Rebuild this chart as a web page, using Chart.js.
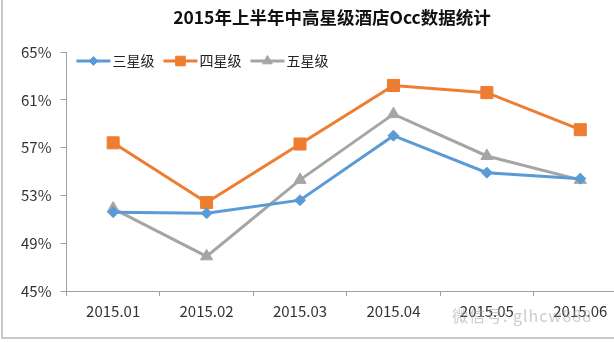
<!DOCTYPE html>
<html>
<head>
<meta charset="utf-8">
<script src="https://cdn.jsdelivr.net/npm/chart.js@4"></script>
<style>
  body { margin: 0; overflow: hidden; background: #fff; }
  .wrap { position: relative; width: 660px; height: 342px; }
  .title { position: absolute; left: 0; top: 5px; width: 664px; text-align: center;
           font: bold 17.5px "Noto Sans CJK SC", sans-serif; color: #111; line-height: 24px; }
  .frame { position: absolute; left: 1px; top: 0; width: 700px; height: 337px;
           border-left: 2px solid #c8c8c8; border-bottom: 2px solid #c8c8c8; pointer-events: none; }
  .mark { position: absolute; left: 452px; top: 303px; font: 16px "Noto Sans CJK SC", sans-serif;
          color: rgba(160,160,160,0.55); letter-spacing: 1px; }
</style>
</head>
<body>
<div class="wrap">
  <canvas id="occ"></canvas>
  <div class="title">2015年上半年中高星级酒店Occ数据统计</div>
  <div class="frame"></div>
  <div class="mark">微信号: glhcw888</div>
</div>
<script>
const months = ['2015.01', '2015.02', '2015.03', '2015.04', '2015.05', '2015.06'];
const seriesNames = ['三星级', '四星级', '五星级'];
const threeStar = [51.6, 51.5, 52.6, 58.0, 54.9, 54.4];
const fourStar = [57.4, 52.4, 57.3, 62.2, 61.6, 58.5];
const fiveStar = [51.9, 47.9, 54.3, 59.8, 56.3, 54.3];
const yMin = 45, yMax = 65, yStep = 4;

const colors = ['#5b9bd5', '#ed7d31', '#a5a5a5'];
const markers = [
  { style: 'rectRot', radius: 5.5 },
  { style: 'rect', radius: 8.5 },
  { style: 'triangle', radius: 7 }
];

const seriesData = [threeStar, fourStar, fiveStar];
const datasets = seriesData.map((vals, i) => ({
  label: seriesNames[i],
  data: vals,
  borderColor: colors[i],
  backgroundColor: colors[i],
  borderWidth: 3,
  pointStyle: markers[i].style,
  pointRadius: markers[i].radius,
  pointBorderWidth: 1,
  tension: 0
}));

// legend drawn inside the plot area, one row, line + marker then name
const insideLegend = {
  id: 'insideLegend',
  afterDraw(chart) {
    const ctx = chart.ctx;
    const area = chart.chartArea;
    let x = area.left + 10;
    const y = area.top + 9;
    ctx.save();
    ctx.font = '14px "Noto Sans CJK SC", sans-serif';
    ctx.textBaseline = 'middle';
    chart.data.datasets.forEach((ds, i) => {
      ctx.strokeStyle = colors[i];
      ctx.lineWidth = 3;
      ctx.beginPath();
      ctx.moveTo(x, y);
      ctx.lineTo(x + 34, y);
      ctx.stroke();
      ctx.fillStyle = colors[i];
      ctx.lineWidth = 1;
      Chart.helpers.drawPoint(ctx, { pointStyle: markers[i].style, radius: markers[i].radius * 0.8, rotation: 0, borderWidth: 1 }, x + 17, y);
      ctx.fillStyle = '#222';
      ctx.fillText(ds.label, x + 36, y);
      x += 36 + ctx.measureText(ds.label).width + 9;
    });
    ctx.restore();
  }
};

const axisColor = '#a0a0a0';
const tickFont = { family: '"Noto Sans CJK SC", "Noto Sans", sans-serif', size: 15 };

new Chart(document.getElementById('occ'), {
  type: 'line',
  data: { labels: months, datasets: datasets },
  options: {
    responsive: true,
    maintainAspectRatio: false,
    animation: false,
    layout: { padding: { left: 12, right: 33, top: 52, bottom: 16 } },
    plugins: {
      title: { display: false },
      legend: { display: false },
      tooltip: { enabled: false }
    },
    scales: {
      x: {
        offset: true,
        grid: { offset: true, drawOnChartArea: false, drawTicks: true, tickLength: 5, color: axisColor },
        border: { color: axisColor },
        ticks: { color: '#333', font: tickFont, padding: 6 }
      },
      y: {
        min: yMin,
        max: yMax,
        grid: { drawOnChartArea: false, drawTicks: true, tickLength: 6, color: axisColor },
        border: { color: axisColor },
        ticks: {
          stepSize: yStep,
          color: '#333',
          font: tickFont,
          padding: 9,
          callback: v => v + '%'
        }
      }
    }
  },
  plugins: [insideLegend]
});
</script>
</body>
</html>
